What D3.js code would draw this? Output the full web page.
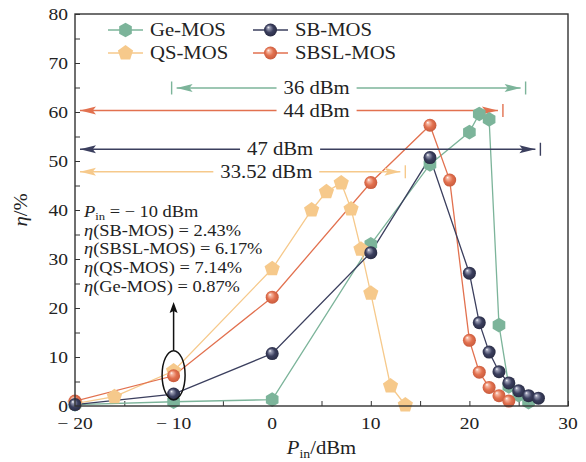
<!DOCTYPE html>
<html>
<head>
<meta charset="utf-8">
<script src="https://cdn.jsdelivr.net/npm/d3@7"></script>
<style>
  body { margin: 0; background: #fff; }
</style>
</head>
<body>
<svg class="chart" width="586" height="462"></svg>
<script>
// series values
const geX = [-20, -10, 0, 10, 16, 20, 21, 22, 23, 24, 25, 26];
const geY = [0.3, 0.87, 1.3, 33, 49.3, 55.9, 59.6, 58.5, 16.5, 4, 2.2, 0.8];
const sbX = [-20, -10, 0, 10, 16, 20, 21, 22, 23, 24, 25, 26, 27];
const sbY = [0.3, 2.43, 10.7, 31.3, 50.7, 27.1, 17, 11, 7, 4.7, 3.1, 2.1, 1.6];
const sbslX = [-20, -10, 0, 10, 16, 18, 20, 21, 22, 23, 24];
const sbslY = [1.0, 6.17, 22.2, 45.6, 57.3, 46.1, 13.4, 6.9, 3.8, 2.1, 1.0];
const qsX = [-20, -16, -10, 0, 4, 5.5, 7, 8, 9, 10, 12, 13.5];
const qsY = [0.5, 1.9, 7.14, 28, 40, 43.7, 45.5, 40.2, 32, 23, 4.1, 0.2];

const xTicks = [-20, -10, 0, 10, 20, 30];
const yTicks = [0, 10, 20, 30, 40, 50, 60, 70, 80];

// span annotations
const spanLabels = ['36 dBm', '44 dBm', '47 dBm', '33.52 dBm'];
const spanFrom = [-10.2, -20, -20, -20];
const spanTo = [25.7, 23.4, 27.2, 13.5];
const spanY = [64.9, 60.3, 52.4, 47.8];
const spanTextX = [4.5, 4.5, 0.8, -0.6];

const noteLines = ['η(SB-MOS) = 2.43%', 'η(SBSL-MOS) = 6.17%', 'η(QS-MOS) = 7.14%', 'η(Ge-MOS) = 0.87%'];

const SX = 1.15;
const FONT = "'Liberation Serif', 'DejaVu Serif', serif";

const place = (sel, x, y) => sel.attr('font-family', FONT).attr('fill', '#222')
  .attr('transform', `translate(${x},${y}) scale(${SX},1)`);

const polygon = (n, r, rot) => d3.range(n).map((i) => {
  const a = rot + (i * 2 * Math.PI) / n;
  return [r * Math.cos(a), r * Math.sin(a)];
});

const series = [
  { name: 'Ge-MOS', xs: geX, ys: geY, color: '#7cb49a', shape: 'hex' },
  { name: 'QS-MOS', xs: qsX, ys: qsY, color: '#f6c98b', shape: 'pent' },
  { name: 'SBSL-MOS', xs: sbslX, ys: sbslY, color: '#e2714f', shape: 'ball', id: 'ballRed', light: '#f6b9a4', dark: '#c4573a' },
  { name: 'SB-MOS', xs: sbX, ys: sbY, color: '#3b3f5e', shape: 'ball', id: 'ballNavy', light: '#9a9db4', dark: '#262940' },
];

const createBall = (defs, { id, light, color, dark }) => {
  const g = defs.append('radialGradient').attr('id', id)
    .attr('cx', '50%').attr('cy', '50%').attr('r', '55%').attr('fx', '32%').attr('fy', '28%');
  g.append('stop').attr('offset', '0%').attr('stop-color', '#ffffff');
  g.append('stop').attr('offset', '18%').attr('stop-color', light);
  g.append('stop').attr('offset', '55%').attr('stop-color', color);
  g.append('stop').attr('offset', '100%').attr('stop-color', dark);
};

const drawMarker = (g, s, cx, cy) => {
  if (s.shape === 'ball') {
    g.append('circle').attr('cx', cx).attr('cy', cy).attr('r', 6.5).attr('fill', `url(#${s.id})`);
  } else if (s.shape === 'hex') {
    g.append('polygon').attr('points', polygon(6, 7.3, -Math.PI / 2).map(([a, b]) => [cx + a, cy + b].join(',')).join(' '))
      .attr('fill', s.color);
  } else {
    g.append('polygon').attr('points', polygon(5, 8, -Math.PI / 2).map(([a, b]) => [cx + a, cy + b].join(',')).join(' '))
      .attr('fill', s.color);
  }
};

const arrowHead = (g, tipX, tipY, dir, color, len = 14, half = 4) => {
  let pts;
  if (dir === 'r') pts = [[tipX, tipY], [tipX - len, tipY - half], [tipX - len * 0.8, tipY], [tipX - len, tipY + half]];
  else if (dir === 'l') pts = [[tipX, tipY], [tipX + len, tipY - half], [tipX + len * 0.8, tipY], [tipX + len, tipY + half]];
  else pts = [[tipX, tipY], [tipX - half, tipY + len], [tipX, tipY + len * 0.8], [tipX + half, tipY + len]];
  g.append('polygon').attr('points', pts.map((p) => p.join(',')).join(' ')).attr('fill', color);
};

const startApp = () => {
  const margin = { top: 14, left: 75, right: 18, bottom: 56 };
  const width = 586 - margin.left - margin.right;
  const height = 462 - margin.top - margin.bottom;
  const svg = d3.select('.chart');
  const defs = svg.append('defs');
  series.filter((s) => s.shape === 'ball').forEach((s) => createBall(defs, s));

  const xScale = d3.scaleLinear().domain([-20, 30]).range([0, width]);
  const yScale = d3.scaleLinear().domain([0, 80]).range([height, 0]);

  const chart = svg.append('g').attr('transform', `translate(${margin.left},${margin.top})`);
  const clipId = 'plotClip';
  defs.append('clipPath').attr('id', clipId).append('rect').attr('width', width).attr('height', height);

  // ticks (inward)
  const xAxis = d3.axisBottom(xScale).tickValues(d3.range(-20, 31, 5)).tickSize(-5).tickFormat('');
  const yAxis = d3.axisLeft(yScale).tickValues(d3.range(0, 81, 5)).tickSize(-5).tickFormat('');
  chart.append('g').attr('transform', `translate(0,${height})`).call(xAxis)
    .call((g) => g.select('.domain').remove())
    .selectAll('line').attr('stroke', '#333').attr('stroke-width', 1);
  chart.append('g').call(yAxis)
    .call((g) => g.select('.domain').remove())
    .selectAll('line').attr('stroke', '#333').attr('stroke-width', 1);

  xTicks.forEach((v) => {
    const t = chart.append('text').attr('text-anchor', 'middle').attr('font-size', 17)
      .text(v < 0 ? `− ${Math.abs(v)}` : `${v}`);
    place(t, xScale(v), height + 23);
  });
  yTicks.forEach((v) => {
    const t = chart.append('text').attr('text-anchor', 'end').attr('font-size', 17).text(`${v}`);
    place(t, -7, yScale(v) + 5.5);
  });

  // axis titles
  const xt = chart.append('text').attr('text-anchor', 'middle').attr('font-size', 18);
  xt.append('tspan').attr('font-style', 'italic').text('P');
  xt.append('tspan').attr('font-size', 12).attr('dy', 4).text('in');
  xt.append('tspan').attr('dy', -4).text('/dBm');
  place(xt, width / 2, height + 48);

  const yt = chart.append('text').attr('text-anchor', 'middle').attr('font-size', 18);
  yt.append('tspan').attr('font-style', 'italic').text('η');
  yt.append('tspan').text('/%');
  place(yt, 0, 0).attr('transform', `translate(${27 - margin.left},${height / 2}) rotate(-90) scale(${SX},1)`);

  // lines
  const plot = chart.append('g').attr('clip-path', `url(#${clipId})`);
  const line = d3.line().x((d) => xScale(d[0])).y((d) => yScale(d[1]));
  series.forEach((s) => {
    plot.append('path').datum(s.xs.map((x, i) => [x, s.ys[i]]))
      .attr('d', line).attr('fill', 'none').attr('stroke', s.color).attr('stroke-width', 1.3);
  });

  // span annotations
  const spans = chart.append('g');
  spanLabels.forEach((label, i) => {
    const color = series[[0, 2, 3, 1][i]].color;
    const y = yScale(spanY[i]);
    const x1 = xScale(spanFrom[i]);
    const x2 = xScale(spanTo[i]);
    const t = spans.append('text').attr('text-anchor', 'middle').attr('font-size', 18).text(label);
    place(t, xScale(spanTextX[i]), y + 6);
    const w = t.node().getBBox().width * SX;
    const tl = xScale(spanTextX[i]) - w / 2 - 7;
    const tr = xScale(spanTextX[i]) + w / 2 + 7;
    const gap = 5;
    spans.append('line').attr('x1', x1 + gap).attr('x2', tl).attr('y1', y).attr('y2', y)
      .attr('stroke', color).attr('stroke-width', 1.4);
    spans.append('line').attr('x1', tr).attr('x2', x2 - gap).attr('y1', y).attr('y2', y)
      .attr('stroke', color).attr('stroke-width', 1.4);
    arrowHead(spans, x1 + gap, y, 'l', color, 16, 4);
    arrowHead(spans, x2 - gap, y, 'r', color, 16, 4);
    [x1, x2].forEach((bx) => {
      if (bx > 1) {
        spans.append('line').attr('x1', bx).attr('x2', bx).attr('y1', y - 6.5).attr('y2', y + 6.5)
          .attr('stroke', color).attr('stroke-width', 1.4);
      }
    });
  });

  // markers
  const marks = chart.append('g');
  series.forEach((s) => {
    s.xs.forEach((x, i) => drawMarker(marks, s, xScale(x), yScale(s.ys[i])));
  });

  // ellipse callout and arrow
  chart.append('ellipse').attr('cx', xScale(-10)).attr('cy', yScale(6.3)).attr('rx', 11.5).attr('ry', 24.5)
    .attr('fill', 'none').attr('stroke', '#111').attr('stroke-width', 1.5);
  chart.append('line').attr('x1', xScale(-10)).attr('x2', xScale(-10))
    .attr('y1', yScale(11.4)).attr('y2', yScale(21.2) + 8).attr('stroke', '#111').attr('stroke-width', 1.5);
  arrowHead(chart, xScale(-10), yScale(21.2), 'u', '#111', 11, 4);

  // note text
  const note = chart.append('g');
  const first = note.append('text').attr('font-size', 16);
  first.append('tspan').attr('font-style', 'italic').text('P');
  first.append('tspan').attr('font-size', 11).attr('dy', 3).text('in');
  first.append('tspan').attr('dy', -3).text(' = − 10 dBm');
  place(first, 84 - margin.left, 217 - margin.top);
  noteLines.forEach((txt, i) => {
    const t = note.append('text').attr('font-size', 16);
    t.append('tspan').attr('font-style', 'italic').text(txt[0]);
    t.append('tspan').text(txt.slice(1));
    place(t, 84 - margin.left, 235.5 + i * 18.8 - margin.top);
  });

  // legend
  const legend = svg.append('g');
  const legendPos = [[108, 30], [108, 53], [253, 53], [253, 30]];
  series.forEach((s, i) => {
    const [lx, ly] = legendPos[i];
    legend.append('line').attr('x1', lx).attr('x2', lx + 35).attr('y1', ly).attr('y2', ly)
      .attr('stroke', s.color).attr('stroke-width', 1.3);
    drawMarker(legend, s, lx + 17.5, ly);
    const t = legend.append('text').attr('font-size', 18).text(s.name);
    place(t, lx + 42, ly + 6);
  });

  // frame
  chart.append('rect').attr('width', width).attr('height', height)
    .attr('fill', 'none').attr('stroke', '#333').attr('stroke-width', 1.4);
};

window.onload = startApp;
</script>
</body>
</html>
